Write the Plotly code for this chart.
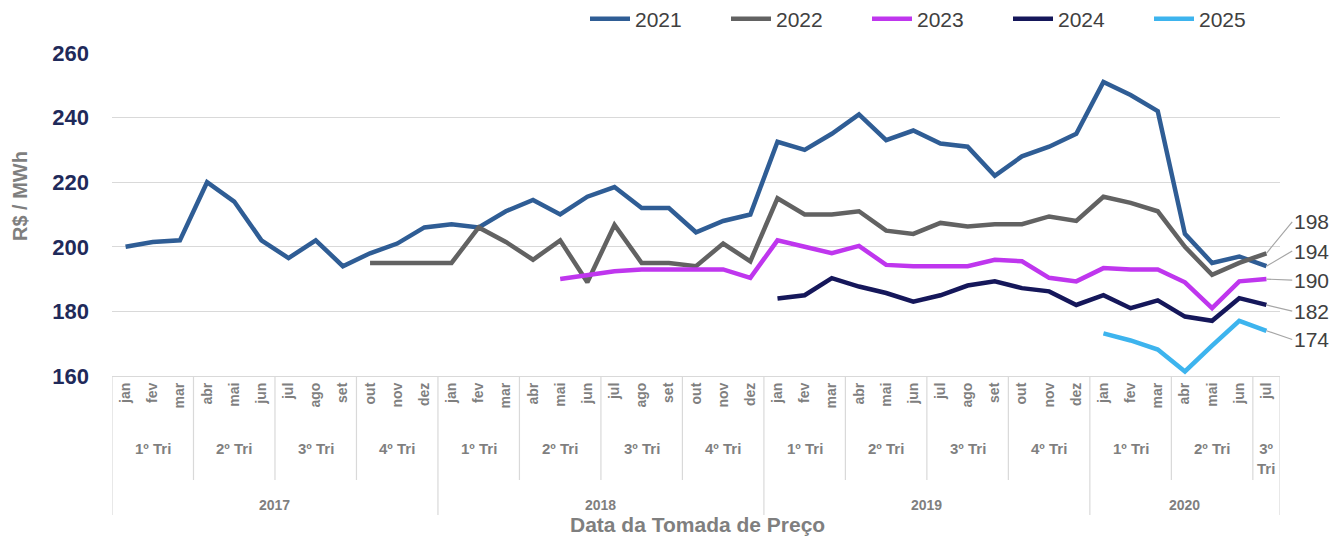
import plotly.graph_objects as go

months = ["jan","fev","mar","abr","mai","jun","jul","ago","set","out","nov","dez"]
years = ["2017","2018","2019","2020"]
quarters = ["1º Tri","2º Tri","3º Tri","4º Tri"]
n_months = 43  # jan 2017 .. jul 2020
month_labels = [months[i % 12] for i in range(n_months)]

s2021 = [200,201.5,202,220,214,202,196.5,202,194,198,201,206,
         207,206,211,214.5,210,215.5,218.5,212,212,204.5,208,210,
         232.5,230,235,241,233,236,232,231,222,228,231,235,
         251,247,242,204,195,197,194]
s2022 = [None]*9 + [195,195,195,
         195,206,201.5,196,202,189,206.8,195,195,194,201,195.5,
         215,210,210,211,205,204,207.4,206.3,207,207,209.4,208,
         215.5,213.6,211,200,191.3,195,198]
s2023 = [None]*16 + [190,191.3,192.4,193,193,193,193,190.4,
         202,200,198,200.3,194.4,194,194,194,196,195.5,190.4,189.3,
         193.4,193,193,189,181,189.3,190]
s2024 = [None]*24 + [184,185,190.3,187.7,185.7,183,185,188,189.3,187.2,186.2,182,
         185,181,183.4,178.4,177.1,184.1,182]
s2025 = [None]*36 + [173.2,171,168.2,161.4,169.4,177.1,174]

series = [("2021", s2021, "#2F5D95"),
          ("2022", s2022, "#626262"),
          ("2023", s2023, "#BF36EE"),
          ("2024", s2024, "#15175A"),
          ("2025", s2025, "#3DB4EE")]
end_labels = {"2021": "194", "2022": "198", "2023": "190", "2024": "182", "2025": "174"}
label_pos = {"2022": 207.7, "2021": 198.7, "2023": 189.7, "2024": 180.1, "2025": 171.3}

x = list(range(n_months))
FONT = "Liberation Sans, Arial, sans-serif"
GRAY = "#7F7F7F"

fig = go.Figure()
for name, vals, col in series:
    fig.add_trace(go.Scatter(x=x, y=vals, name=name, mode="lines",
                             line=dict(color=col, width=4.5), connectgaps=False))

annotations = []
for name, vals, col in series:
    annotations.append(dict(x=n_months - 1, y=vals[-1], xref="x", yref="y",
                            ax=n_months - 0.05, ay=label_pos[name], axref="x", ayref="y",
                            text=end_labels[name], showarrow=True, arrowhead=0,
                            arrowwidth=1.2, arrowcolor="#A6A6A6", xanchor="left",
                            font=dict(family=FONT, size=21, color="#404040")))

shapes = []
for q in range(0, n_months, 3):
    span = min(3, n_months - q)
    center = q + (span - 1) / 2
    qi = (q // 3) % 4
    txt = quarters[qi] if span == 3 else quarters[qi].replace(" ", "<br>")
    annotations.append(dict(x=center, y=-0.223 if span == 3 else -0.255, xref="x", yref="paper",
                            text=txt, showarrow=False, yanchor="middle", xanchor="center",
                            font=dict(family=FONT, size=15, color=GRAY, weight="bold")))
    shapes.append(dict(type="line", xref="x", yref="paper", x0=q - 0.5, x1=q - 0.5,
                       y0=0, y1=-0.43 if q % 12 == 0 else -0.322,
                       line=dict(color="#D9D9D9", width=1.2)))
shapes.append(dict(type="line", xref="x", yref="paper", x0=n_months - 0.5, x1=n_months - 0.5,
                   y0=0, y1=-0.43, line=dict(color="#D9D9D9", width=1.2)))
for yi, yr in enumerate(years):
    start = yi * 12
    end = min(start + 12, n_months)
    annotations.append(dict(x=(start + end - 1) / 2, y=-0.40, xref="x", yref="paper",
                            text=yr, showarrow=False, yanchor="middle", xanchor="center",
                            font=dict(family=FONT, size=14, color=GRAY, weight="bold")))
annotations.append(dict(x=(697 - 112) / 1168, y=-0.461, xref="paper", yref="paper",
                        yanchor="middle", xanchor="center",
                        text="Data da Tomada de Preço", showarrow=False,
                        font=dict(family=FONT, size=21, color=GRAY, weight="bold")))
annotations.append(dict(x=-0.0788, y=0.557, xref="paper", yref="paper", textangle=-90,
                        xanchor="center", yanchor="middle",
                        text="R$ / MWh", showarrow=False,
                        font=dict(family=FONT, size=20, color=GRAY, weight="bold")))

fig.update_layout(
    width=1340, height=537,
    margin=dict(l=112, r=60, t=53, b=161, autoexpand=False),
    paper_bgcolor="white", plot_bgcolor="white",
    font=dict(family=FONT),
    showlegend=True,
    legend=dict(orientation="h", x=585 / 1340, xanchor="left", y=1 - 19 / 537, yanchor="middle",
                xref="container", yref="container",
                font=dict(family=FONT, size=21, color="#404040"),
                entrywidth=86, itemwidth=40, bgcolor="rgba(0,0,0,0)"),
    annotations=annotations,
    shapes=shapes,
)
fig.update_xaxes(range=[-0.5, n_months - 0.5], tickmode="array", tickvals=x,
                 ticktext=month_labels, tickangle=-90, automargin=False,
                 tickfont=dict(family=FONT, size=14, color=GRAY, weight="bold"),
                 showgrid=False, showline=True, linecolor="#D9D9D9", linewidth=1.2,
                 ticks="", zeroline=False)
fig.update_yaxes(range=[160, 260], dtick=20, tick0=160, automargin=False,
                 tickfont=dict(family=FONT, size=22, color="#1F2A5A", weight="bold"),
                 showgrid=True, gridcolor="#D9D9D9", gridwidth=1.2, zeroline=False,
                 ticklabelstandoff=22)

fig.write_html("out.html", config={"displayModeBar": False},
               post_script="document.body.style.margin='0px';")
